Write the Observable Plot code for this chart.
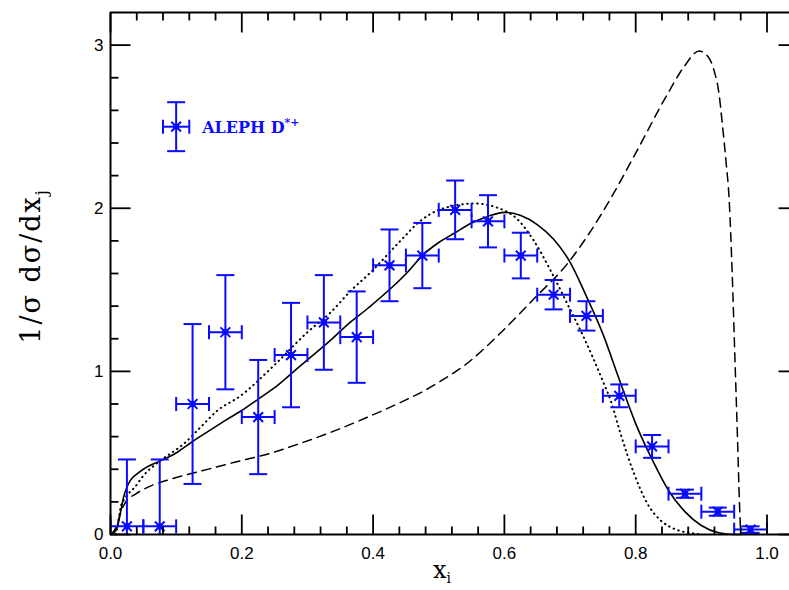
<!DOCTYPE html>
<html><head><meta charset="utf-8">
<script src="https://cdn.jsdelivr.net/npm/d3@7"></script>
<script src="https://cdn.jsdelivr.net/npm/@observablehq/plot@0.6"></script>
<style>html,body{margin:0;padding:0;background:#fff;overflow:hidden}</style>
</head><body><div id="chart"></div>
<script>
// ---- data ----
const binCenters = [0.025,0.075,0.125,0.175,0.225,0.275,0.325,0.375,0.425,0.475,0.525,0.575,0.625,0.675,0.725,0.775,0.825,0.875,0.925,0.975];
const alephValues = [0.05,0.05,0.80,1.24,0.72,1.10,1.30,1.21,1.65,1.71,1.99,1.92,1.71,1.47,1.34,0.85,0.54,0.25,0.14,0.03];
const alephErrors = [0.41,0.41,0.49,0.35,0.35,0.32,0.29,0.28,0.22,0.20,0.18,0.16,0.14,0.09,0.09,0.07,0.07,0.025,0.025,0.02];
const binHalfWidth = 0.025;

const solidX = [0,0.005,0.01,0.015,0.02,0.025,0.03,0.04,0.05,0.075,0.1,0.125,0.15,0.175,0.2,0.225,0.25,0.275,0.3,0.335,0.365,0.393,0.452,0.475,0.5,0.525,0.55,0.575,0.6,0.625,0.65,0.675,0.7,0.725,0.75,0.775,0.8,0.825,0.85,0.875,0.9,0.925,0.95,0.96];
const solidY = [0,0.01,0.04,0.13,0.23,0.29,0.33,0.37,0.40,0.45,0.50,0.57,0.635,0.70,0.76,0.83,0.90,0.985,1.07,1.19,1.30,1.39,1.606,1.71,1.79,1.85,1.91,1.95,1.975,1.955,1.90,1.81,1.67,1.46,1.23,0.95,0.68,0.46,0.27,0.14,0.055,0.012,0,0];

const dottedX = [0.008,0.012,0.015,0.02,0.025,0.037,0.05,0.075,0.1,0.112,0.137,0.163,0.198,0.25,0.3,0.335,0.365,0.396,0.4416,0.4722,0.503,0.554,0.589,0.6197,0.645,0.6705,0.696,0.721,0.75,0.762,0.777,0.7976,0.818,0.838,0.8586,0.889,0.9];
const dottedY = [0,0.08,0.16,0.21,0.24,0.29,0.36,0.45,0.52,0.557,0.657,0.76,0.85,1.04,1.24,1.36,1.49,1.606,1.80,1.923,1.994,2.029,2.004,1.933,1.80,1.617,1.413,1.208,0.94,0.82,0.617,0.372,0.188,0.086,0.035,0.006,0];

const dashedX = [0,0.005,0.01,0.015,0.025,0.037,0.0625,0.088,0.139,0.189,0.24,0.29,0.341,0.392,0.442,0.482,0.5026,0.5434,0.594,0.645,0.696,0.7265,0.762,0.7976,0.8485,0.874,0.8967,0.9095,0.9196,0.927,0.932,0.9375,0.9425,0.947,0.951,0.955,0.958,0.96];
const dashedY = [0,0.02,0.06,0.13,0.21,0.245,0.30,0.335,0.39,0.443,0.494,0.56,0.635,0.72,0.81,0.89,0.94,1.05,1.235,1.445,1.66,1.83,2.06,2.32,2.70,2.87,2.964,2.933,2.841,2.70,2.515,2.29,2.045,1.6,1.1,0.6,0.2,0];

const legendPoint = {x: 0.1, y: 2.5, e: 0.15, ex: 0.02};
const legendLabel = "ALEPH D";
const legendSup = "*+";

const xMajor = [0,0.2,0.4,0.6,0.8,1.0];
const xMinor = d3.range(0.04, 1.04, 0.04).filter(v => Math.abs(v/0.2 - Math.round(v/0.2)) > 1e-6);
const yMajor = [0,1,2,3];
const yMinor = d3.range(0.2, 3.2, 0.2).filter(v => Math.abs(v - Math.round(v)) > 1e-6);
const xTickLabels = ["0.0","0.2","0.4","0.6","0.8","1.0"];
const yTickLabels = ["0","1","2","3"];

// ---- build ----
const X0 = 0, X1 = 1.048, Y0 = 0, Y1 = 3.2;
const blue = "#0a0aff";
const points = binCenters.map((x,i) => ({x, y: alephValues[i], e: alephErrors[i], ex: binHalfWidth}));
const line = (xs, ys) => xs.map((x,i) => ({x, y: ys[i]}));

const seg = (x1,y1,x2,y2) => ({draw(c){ c.moveTo(x1,y1); c.lineTo(x2,y2); }});
const MAJ = 20, MIN = 8;

function errorMarks(data) {
  return [
    Plot.ruleX(data, {x: "x", y1: d => d.y - d.e, y2: d => d.y + d.e, stroke: blue, strokeWidth: 2, clip: true}),
    Plot.ruleY(data, {y: "y", x1: d => d.x - d.ex, x2: d => d.x + d.ex, stroke: blue, strokeWidth: 2, clip: true}),
    Plot.dot(data, {x: "x", y: d => d.y + d.e, r: 1, symbol: seg(-9,0,9,0), stroke: blue, strokeWidth: 2, fill: "none", clip: true}),
    Plot.dot(data, {x: "x", y: d => d.y - d.e, r: 1, symbol: seg(-9,0,9,0), stroke: blue, strokeWidth: 2, fill: "none", clip: true}),
    Plot.dot(data, {x: d => d.x - d.ex, y: "y", r: 1, symbol: seg(0,-7,0,7), stroke: blue, strokeWidth: 2, fill: "none", clip: true}),
    Plot.dot(data, {x: d => d.x + d.ex, y: "y", r: 1, symbol: seg(0,-7,0,7), stroke: blue, strokeWidth: 2, fill: "none", clip: true}),
    Plot.dot(data, {x: "x", y: "y", r: 4.5, symbol: "times", stroke: blue, strokeWidth: 2, fill: "none"}),
    Plot.dot(data, {x: "x", y: "y", r: 2.4, symbol: "square", stroke: blue, strokeWidth: 1.5, fill: "none"})
  ];
}

const tickStyle = {r: 1, stroke: "black", strokeWidth: 1.8, fill: "none"};

const chart = Plot.plot({
  width: 789, height: 590,
  marginLeft: 110, marginRight: 0, marginTop: 12, marginBottom: 56,
  style: {background: "white", overflow: "hidden"},
  x: {domain: [X0, X1], range: [110, 798], axis: null},
  y: {domain: [Y0, Y1], range: [534, 12], axis: null},
  marks: [
    // curves
    Plot.line(line(dashedX, dashedY), {x: "x", y: "y", stroke: "black", strokeWidth: 1.5, strokeDasharray: "9,6", curve: "monotone-x"}),
    Plot.line(line(dottedX, dottedY), {x: "x", y: "y", stroke: "black", strokeWidth: 2, strokeDasharray: "0.5,4.5", strokeLinecap: "round", curve: "monotone-x"}),
    Plot.line(line(solidX, solidY), {x: "x", y: "y", stroke: "black", strokeWidth: 1.6, curve: "monotone-x"}),
    // data + legend
    ...errorMarks(points),
    ...errorMarks([legendPoint]),
    Plot.text([legendPoint], {x: "x", y: "y", text: () => legendLabel, dx: 26, dy: 1, textAnchor: "start", fill: blue, fontSize: 16, fontFamily: "DejaVu Serif", fontWeight: "bold"}),
    // frame
    Plot.ruleX([X0], {stroke: "black", strokeWidth: 2}),
    Plot.ruleY([Y0], {stroke: "black", strokeWidth: 2}),
    Plot.ruleY([Y1], {stroke: "black", strokeWidth: 2}),
    Plot.ruleX([X1], {stroke: "black", strokeWidth: 2}),
    // ticks
    Plot.dot(xMajor, {x: d => d, y: Y0, symbol: seg(0,0,0,-MAJ), ...tickStyle}),
    Plot.dot(xMinor, {x: d => d, y: Y0, symbol: seg(0,0,0,-MIN), ...tickStyle}),
    Plot.dot(xMajor, {x: d => d, y: Y1, symbol: seg(0,0,0,MAJ), ...tickStyle}),
    Plot.dot(xMinor, {x: d => d, y: Y1, symbol: seg(0,0,0,MIN), ...tickStyle}),
    Plot.dot(yMajor, {x: X0, y: d => d, symbol: seg(0,0,MAJ,0), ...tickStyle}),
    Plot.dot(yMinor, {x: X0, y: d => d, symbol: seg(0,0,MIN,0), ...tickStyle}),
    Plot.dot(yMajor, {x: X1, y: d => d, symbol: seg(0,0,-MAJ,0), ...tickStyle}),
    Plot.dot(yMinor, {x: X1, y: d => d, symbol: seg(0,0,-MIN,0), ...tickStyle}),
    // tick labels
    Plot.text(xMajor, {x: d => d, y: Y0, text: (d,i) => xTickLabels[i], dy: 19, fill: "black", fontSize: 17, fontFamily: "Liberation Sans"}),
    Plot.text(yMajor, {x: X0, y: d => d, text: (d,i) => yTickLabels[i], dx: -7, textAnchor: "end", fill: "black", fontSize: 17, fontFamily: "Liberation Sans"})
  ]
});

const svg = d3.select(chart);
// superscript for legend
svg.selectAll("text").filter(function(){ return this.textContent === legendLabel; })
  .append("tspan").attr("dy", -7).attr("font-size", 11).text(legendSup);

// axis titles
const xt = svg.append("text").attr("x", 442).attr("y", 578)
  .attr("font-family", "DejaVu Serif").attr("font-size", 24).attr("fill", "black");
xt.append("tspan").text("x");
xt.append("tspan").attr("dy", 5).attr("font-size", 14).text("i");

const yt = svg.append("text").attr("transform", "translate(40,266) rotate(-90)")
  .attr("text-anchor", "middle")
  .attr("font-family", "DejaVu Serif").attr("font-size", 27).attr("letter-spacing", 2).attr("fill", "black");
yt.append("tspan").text("1/σ dσ/dx");
yt.append("tspan").attr("dy", 7).attr("font-size", 16).text("j");

document.getElementById("chart").appendChild(chart);
</script>
</body></html>
